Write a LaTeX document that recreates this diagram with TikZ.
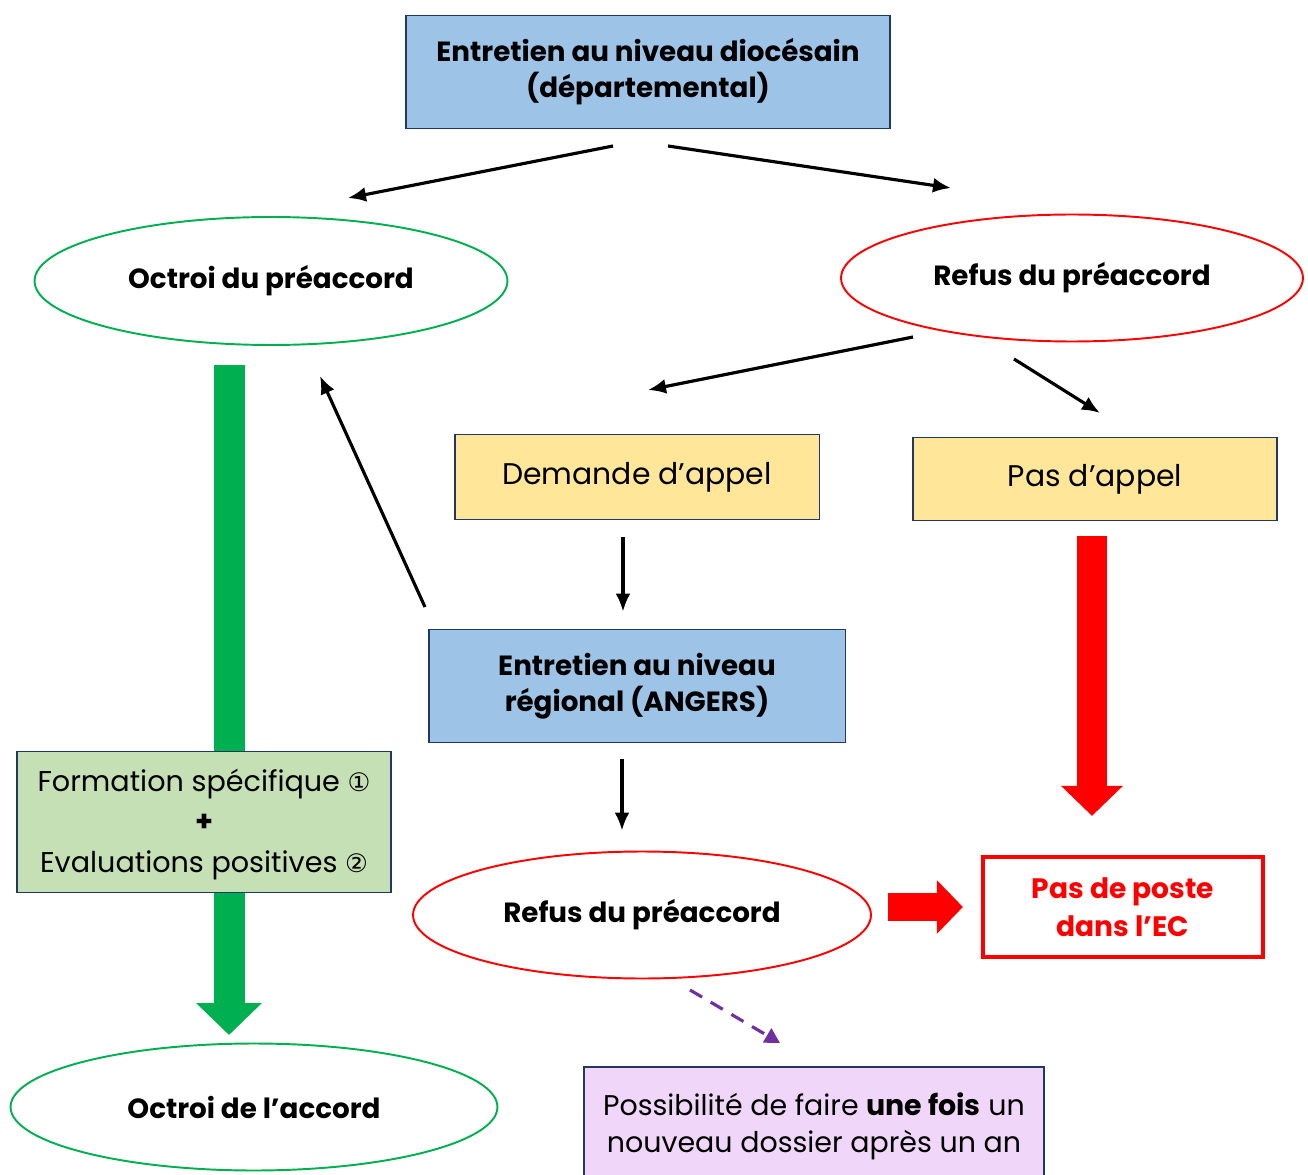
\documentclass[tikz,border=0pt]{standalone}
\usepackage{fontspec}
\setmainfont{Poppins}
\newfontfamily\circfont{DejaVu Sans}
\usetikzlibrary{shapes.geometric, arrows.meta, positioning, calc, backgrounds}
\definecolor{boxblue}{RGB}{157,195,230}
\definecolor{boxline}{RGB}{32,56,100}
\definecolor{boxyellow}{RGB}{255,230,153}
\definecolor{boxgreen}{RGB}{197,224,180}
\definecolor{boxlilac}{RGB}{240,214,248}
\definecolor{okgreen}{RGB}{0,176,80}
\definecolor{nored}{RGB}{255,0,0}
\definecolor{dashpurple}{RGB}{112,48,160}

\begin{document}
\begin{tikzpicture}[x=0.02cm, y=-0.02cm,
  sbox/.style={draw=boxline, line width=1.1pt, align=center, inner sep=0pt, font=\fontsize{17}{22}\selectfont},
  bold text/.style={font=\fontsize{15.8}{20.5}\selectfont\bfseries},
  okell/.style={ellipse, draw=okgreen, line width=1.1pt, inner sep=0pt, bold text},
  noell/.style={ellipse, draw=nored, line width=1.1pt, inner sep=0pt, bold text},
  thin arrow/.style={line width=1.8pt, -{Latex[length=0.36cm, width=0.3cm]}},
  big green/.style={okgreen, line width=0.62cm, -{Triangle[length=0.64cm, width=1.28cm]}},
  big red/.style={nored, line width=0.6cm, -{Triangle[length=0.6cm, width=1.2cm]}}
]
  \useasboundingbox (0,0) rectangle (1308,1175);

  % niveau diocesain
  \node[sbox, fill=boxblue, minimum width=9.68cm, minimum height=2.26cm, bold text] (dioc) at (648,72) {Entretien au niveau diocésain\\(départemental)};
  \node[okell, minimum width=9.46cm, minimum height=2.56cm] (octroi) at (271,281) {Octroi du préaccord};
  \node[noell, minimum width=9.24cm, minimum height=2.54cm] (refus) at (1072,278) {Refus du préaccord};

  % appel
  \node[sbox, fill=boxyellow, minimum width=7.3cm, minimum height=1.7cm] (demande) at (637,477) {Demande d’appel};
  \node[sbox, fill=boxyellow, minimum width=7.28cm, minimum height=1.66cm] (pasappel) at (1095,479) {Pas d’appel};

  % niveau regional
  \node[sbox, fill=boxblue, minimum width=8.34cm, minimum height=2.26cm, bold text] (region) at (637,686) {Entretien au niveau\\régional (ANGERS)};
  \node[noell, minimum width=9.16cm, minimum height=2.54cm] (refusbis) at (642,915) {Refus du préaccord};
  \node[draw=nored, line width=2.4pt, minimum width=5.6cm, minimum height=2.0cm, align=center, text=nored, font=\fontsize{16}{21.5}\selectfont\bfseries] (poste) at (1123,907) {Pas de poste\\dans l’EC};

  % formation et accord
  \node[sbox, fill=boxgreen, minimum width=7.48cm, minimum height=2.82cm, font=\fontsize{16.3}{22}\selectfont] (formation) at (204,822) {\strut Formation spécifique {\circfont\fontsize{14.5}{22}\selectfont ①}\\[1pt]{\bfseries +}\\[1pt]Evaluations positives {\circfont\fontsize{14.5}{22}\selectfont ②}};
  \node[okell, minimum width=9.74cm, minimum height=2.54cm] (accord) at (254,1107) {Octroi de l’accord};
  \node[sbox, fill=boxlilac, minimum width=9.2cm, minimum height=2.5cm, anchor=north] (dossier) at (814,1066) {};
  \node[font=\fontsize{16.2}{21}\selectfont, align=center] (dossiertxt) at (814,1126) {Possibilité de faire \textbf{une fois} un\\nouveau dossier après un an};

  % fleches
  \coordinate (d1) at (613,146); \coordinate (d2) at (668,146);
  \coordinate (o1) at (348,198); \coordinate (r1) at (951,188);
  \draw[thin arrow] (d1) -- (o1);
  \draw[thin arrow] (d2) -- (r1);
  \coordinate (r2) at (913,337); \coordinate (r3) at (1014,359);
  \draw[thin arrow] (r2) -- (648,390);
  \draw[thin arrow] (r3) -- (1100,413);
  \draw[thin arrow] ([yshift=-0.34cm]demande.south -| 623,0) -- ([yshift=0.34cm]region.north -| 623,0);
  \draw[thin arrow] ([yshift=-0.32cm]region.south -| 622,0) -- ([yshift=0.4cm]refusbis.north -| 622,0);
  \draw[thin arrow] (425,607) -- (320,376);
  \draw[dashpurple, line width=1.8pt, dash pattern=on 0.28cm off 0.2cm, -{Triangle[length=0.3cm, width=0.32cm]}] (690,990) -- (780,1043);

  \begin{pgfonlayer}{background}
    \coordinate (gtop) at (229,365); \coordinate (gbot) at (229,1035);
    \draw[big green] (gtop) -- (gbot);
  \end{pgfonlayer}
  \draw[big red] ([yshift=-0.3cm]pasappel.south -| 1092,0) -- ([yshift=0.78cm]poste.north -| 1092,0);
  \draw[nored, line width=0.56cm, -{Triangle[length=0.52cm, width=1.04cm]}] ([xshift=0.32cm]refusbis.east |- poste.west) -- ([xshift=-0.36cm]poste.west);
\end{tikzpicture}
\end{document}
